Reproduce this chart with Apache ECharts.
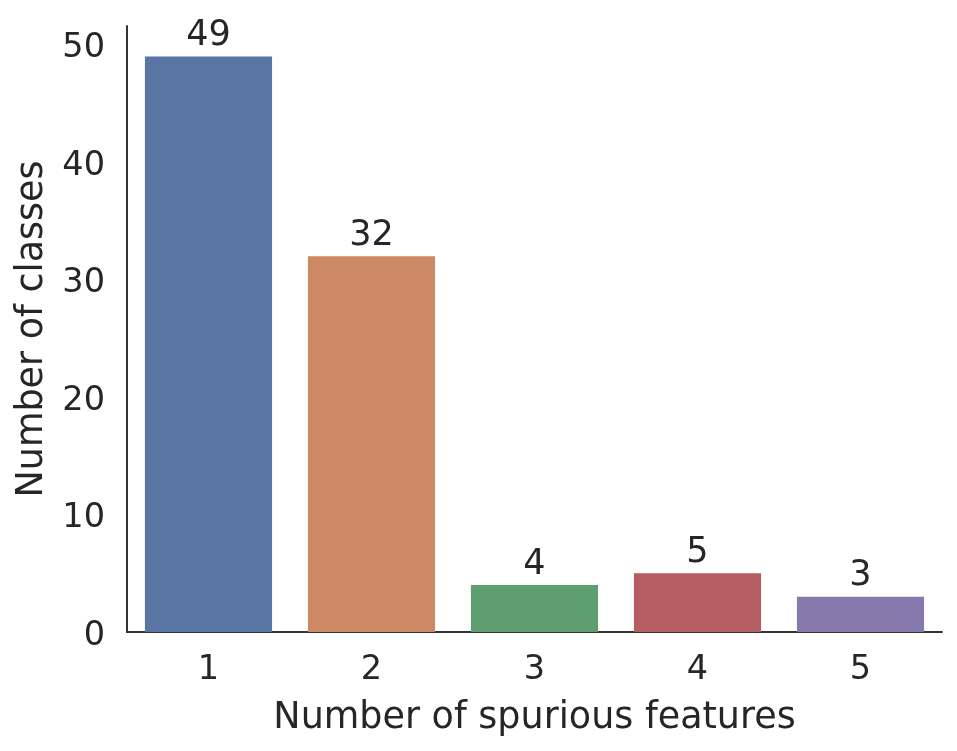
<!DOCTYPE html>
<html>
<head>
<meta charset="utf-8">
<script src="https://cdn.jsdelivr.net/npm/echarts@6/dist/echarts.min.js"></script>
<style>
html,body{margin:0;padding:0;background:#fff;}
#chart{width:957px;height:751px;}
</style>
</head>
<body>
<div id="chart"></div>
<script>
const categories = ['1', '2', '3', '4', '5'];
const counts = [49, 32, 4, 5, 3];
const barColors = ['#5875A4', '#CC8963', '#5F9E6E', '#B55D60', '#857AAB'];
const yTicks = [0, 10, 20, 30, 40, 50];
const xTitle = 'Number of spurious features';
const yTitle = 'Number of classes';

const FONT = 'DejaVu Sans';
const TXT = '#262626';

const chart = echarts.init(document.getElementById('chart'), null, {renderer: 'canvas'});
chart.setOption({
  backgroundColor: '#ffffff',
  animation: false,
  grid: {left: 127, right: 15, top: 26, bottom: 119, containLabel: false},
  xAxis: {
    type: 'category',
    data: categories,
    boundaryGap: true,
    name: xTitle,
    nameLocation: 'middle',
    nameGap: 68,
    nameTextStyle: {fontFamily: FONT, fontSize: 36.5, color: TXT},
    axisLine: {show: true, lineStyle: {color: '#333333', width: 2}},
    axisTick: {show: false},
    axisLabel: {fontFamily: FONT, fontSize: 33.5, color: TXT, margin: 21},
    splitLine: {show: false}
  },
  yAxis: {
    type: 'value',
    min: 0,
    max: 51.6,
    interval: 10,
    name: yTitle,
    nameLocation: 'middle',
    nameGap: 71,
    nameTextStyle: {fontFamily: FONT, fontSize: 36.5, color: TXT},
    axisLine: {show: true, lineStyle: {color: '#333333', width: 2}},
    axisTick: {show: false},
    axisLabel: {
      fontFamily: FONT, fontSize: 33.5, color: TXT, margin: 22,
      verticalAlign: 'top',
      lineHeight: 8,
      showMaxLabel: false,
      formatter: function (v) { return yTicks.indexOf(v) >= 0 ? String(v) : ''; }
    },
    splitLine: {show: false}
  },
  series: [{
    type: 'bar',
    data: counts.map(function (v, i) { return {value: v, itemStyle: {color: barColors[i]}}; }),
    barWidth: '78%',
    label: {
      show: true,
      position: 'top',
      distance: 3,
      fontFamily: FONT,
      fontSize: 35,
      color: TXT
    }
  }]
});
</script>
</body>
</html>
